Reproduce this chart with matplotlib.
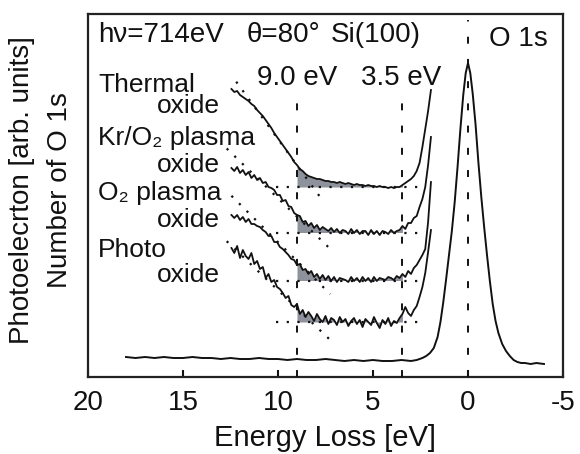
import numpy as np
import matplotlib
matplotlib.use("Agg")
import matplotlib.pyplot as plt

plt.rcParams['font.family'] = ['Liberation Sans', 'DejaVu Sans']
plt.rcParams['lines.scale_dashes'] = False

# ---------------- data ----------------
# O 1s main spectrum: energy loss (eV) and intensity (arb. units)
E_MAIN = [18.0, 17.5, 17.0, 16.5, 16.0, 15.5, 15.0, 14.5, 14.0, 13.5, 13.0, 12.5,
          12.0, 11.5, 11.0, 10.5, 10.0, 9.5, 9.0, 8.5, 8.0, 7.5, 7.0, 6.5, 6.0,
          5.5, 5.0, 4.5, 4.0, 3.5, 3.0, 2.7, 2.4, 2.2, 2.0, 1.8, 1.6, 1.45, 1.3,
          1.15, 1.0, 0.85, 0.7, 0.55, 0.4, 0.25, 0.12, 0.0, -0.12, -0.25, -0.4,
          -0.55, -0.7, -0.85, -1.0, -1.15, -1.3, -1.45, -1.6, -1.8, -2.0, -2.2,
          -2.4, -2.6, -2.8, -3.0, -3.3, -3.6, -4.0]
I_MAIN = [20, 19, 20, 19, 20, 19, 19, 20, 19, 19, 18, 19,
          18, 18, 19, 18, 18, 17, 18, 17, 17, 18, 17, 16, 17,
          16, 17, 16, 16, 17, 16, 17, 19, 21, 24, 29, 40, 55, 75,
          98, 122, 146, 175, 210, 248, 282, 304, 314, 304, 283, 252,
          214, 180, 150, 122, 96, 73, 56, 44, 33, 26, 21,
          17, 15, 14, 14, 13, 14, 13]

# energy grid of the four oxide loss spectra (eV)
E_OX = [12.45, 12.30, 12.15, 12.00, 11.85, 11.70, 11.55, 11.40, 11.25, 11.10,
        10.95, 10.80, 10.65, 10.50, 10.35, 10.20, 10.05, 9.90, 9.75, 9.60,
        9.45, 9.30, 9.15, 9.00, 8.85, 8.70, 8.55, 8.40, 8.25, 8.10,
        7.95, 7.80, 7.65, 7.50, 7.35, 7.20, 7.05, 6.90, 6.75, 6.60,
        6.45, 6.30, 6.15, 6.00, 5.85, 5.70, 5.55, 5.40, 5.25, 5.10,
        4.95, 4.80, 4.65, 4.50, 4.35, 4.20, 4.05, 3.90, 3.75, 3.60,
        3.45, 3.30, 3.15, 3.00, 2.85, 2.70, 2.55, 2.40, 2.25, 2.10, 1.95]

THERMAL = [288, 285, 286, 282, 280, 278, 276, 273, 271, 267,
           264, 261, 257, 253, 249, 244, 240, 236, 232, 228,
           224, 220, 215, 212, 208, 206, 203, 201, 200, 199,
           198, 198, 197, 196, 196, 195, 195, 194, 195, 194,
           193, 194, 193, 192, 193, 192, 192, 191, 192, 191,
           191, 190, 191, 190, 190, 189, 190, 189, 190, 190,
           192, 194, 196, 198, 201, 206, 214, 230, 248, 266, 287]

KR_O2 = [209, 206, 210, 204, 207, 202, 205, 199, 202, 197,
         199, 194, 195, 190, 189, 187, 182, 182, 176, 177,
         171, 170, 164, 162, 161, 155, 156, 151, 154, 149,
         152, 147, 150, 148, 146, 149, 145, 148, 144, 147,
         146, 143, 148, 144, 147, 143, 146, 146, 142, 147,
         143, 146, 142, 146, 145, 143, 147, 144, 146, 147,
         151, 148, 154, 154, 159, 161, 170, 178, 190, 212, 240]

O2_PLASMA = [162, 159, 162, 157, 160, 155, 158, 153, 153, 151,
             150, 147, 145, 141, 141, 135, 135, 130, 128, 125,
             122, 118, 117, 112, 113, 107, 108, 103, 106, 100,
             103, 98, 102, 97, 101, 96, 100, 95, 99, 98,
             97, 95, 100, 96, 99, 95, 100, 96, 99, 95,
             100, 96, 99, 98, 97, 100, 99, 97, 101, 99,
             103, 100, 106, 103, 109, 112, 117, 122, 128, 155, 195]

PHOTO = [129, 124, 131, 119, 127, 121, 118, 124, 113, 116,
         108, 110, 99, 103, 95, 97, 90, 88, 84, 79,
         81, 72, 70, 73, 63, 67, 60, 65, 61, 56,
         63, 58, 55, 61, 53, 59, 57, 52, 60, 55,
         58, 51, 56, 59, 53, 57, 50, 58, 55, 52,
         60, 54, 49, 57, 53, 59, 51, 56, 54, 59,
         63, 70, 64, 61, 67, 71, 80, 90, 104, 125, 147]

SPECTRA = [THERMAL, KR_O2, O2_PLASMA, PHOTO]
BASE_LEVEL = [190, 144.5, 96.5, 55]          # background level of each spectrum
BASE_E = [10.1, 2.4]                          # extent of the dotted background lines
TANGENT_E = [[12.2, 7.7], [12.7, 7.3], [12.45, 7.25], [12.7, 7.3]]
TANGENT_Y = [[295.3, 177.8], [228.5, 129.0], [181.2, 82.9], [135.8, 37.9]]
LOSS_MARKS = [9.0, 3.5]                       # band gap / onset markers (eV)
MARK_LABELS = ["9.0 eV", "3.5 eV"]
SAMPLE_LINE1 = ["Thermal", "Kr/O\u2082 plasma", "O\u2082 plasma", "Photo"]
SAMPLE_LINE2 = ["oxide", "oxide", "oxide", "oxide"]
XTICKS = [20, 15, 10, 5, 0, -5]
XTICK_LABELS = ["20", "15", "10", "5", "0", "-5"]

# ---------------- figure ----------------
W, H = 580, 454
fig = plt.figure(figsize=(W / 100, H / 100), dpi=100)
ax = fig.add_axes([88 / W, 77 / H, 475 / W, 363 / H])
ax.set_xlim(20, -5)
ax.set_ylim(0, 363)

black = '#111111'
grey = '#8e929c'
dotted = (0, (1.6, 6.1))
dashed = (0, (5.0, 11.0))

ax.plot(E_MAIN, I_MAIN, color=black, lw=1.4, zorder=3)

E_arr = np.array(E_OX)
for spec, base, te, ty in zip(SPECTRA, BASE_LEVEL, TANGENT_E, TANGENT_Y):
    s = np.array(spec, dtype=float)
    m = (E_arr <= LOSS_MARKS[0] + 0.05) & (E_arr >= LOSS_MARKS[1] - 0.06)
    ax.fill_between(E_arr[m], s[m], base, color=grey, lw=0, zorder=1)
    ax.plot(BASE_E, [base, base], color=black, lw=1.6, ls=dotted, zorder=2)
    ax.plot(te, ty, color=black, lw=1.6, ls=dotted, zorder=2)
    ax.plot(E_arr, s, color=black, lw=1.3, zorder=3)

# vertical dashed markers
for e in LOSS_MARKS:
    ax.plot([e, e], [0, 284], color=black, lw=1.4, ls=dashed, zorder=4)
ax.plot([0, 0], [0, 357], color=black, lw=1.4, ls=dashed, zorder=4)

# texts
for e, lab in zip(LOSS_MARKS, MARK_LABELS):
    ax.text(e, 292, lab, ha='center', va='baseline', fontsize=20, color=black)

ax.text(19.47, 335, "h\u03bd=714eV", ha='left', va='baseline', fontsize=20, color=black)
ax.text(11.63, 335, "\u03b8=80\u00b0", ha='left', va='baseline', fontsize=20, color=black)
ax.text(7.21, 335, "Si(100)", ha='left', va='baseline', fontsize=20, color=black)
ax.text(-1.1, 331, "O 1s", ha='left', va='baseline', fontsize=20, color=black)

line1_y = [285.3, 232, 177, 120.3]
line2_y = [263.7, 205.3, 150.3, 95.3]
for l1, l2, y1, y2 in zip(SAMPLE_LINE1, SAMPLE_LINE2, line1_y, line2_y):
    ax.text(19.47, y1, l1, ha='left', va='baseline', fontsize=19, color=black)
    ax.text(13.05, y2, l2, ha='right', va='baseline', fontsize=19, color=black)

# axes styling
ax.set_xticks(XTICKS)
ax.set_xticklabels(XTICK_LABELS)
ax.set_yticks([])
ax.tick_params(axis='x', direction='in', length=5, width=1.5, pad=9,
               labelsize=20, top=False, colors=black)
for sp in ax.spines.values():
    sp.set_linewidth(1.6)
    sp.set_color('#222222')

fig.text(325 / W, 1 - 446 / H, "Energy Loss [eV]", ha='center', va='baseline',
         fontsize=21, color=black)
fig.text(67 / W, 1 - 190 / H, "Number of O 1s", rotation=90, rotation_mode='anchor',
         ha='center', va='baseline', fontsize=20, color=black)
fig.text(29 / W, 1 - 190 / H, "Photoelecrton [arb. units]", rotation=90,
         rotation_mode='anchor', ha='center', va='baseline', fontsize=20, color=black)

fig.savefig("out.png", dpi=100)
